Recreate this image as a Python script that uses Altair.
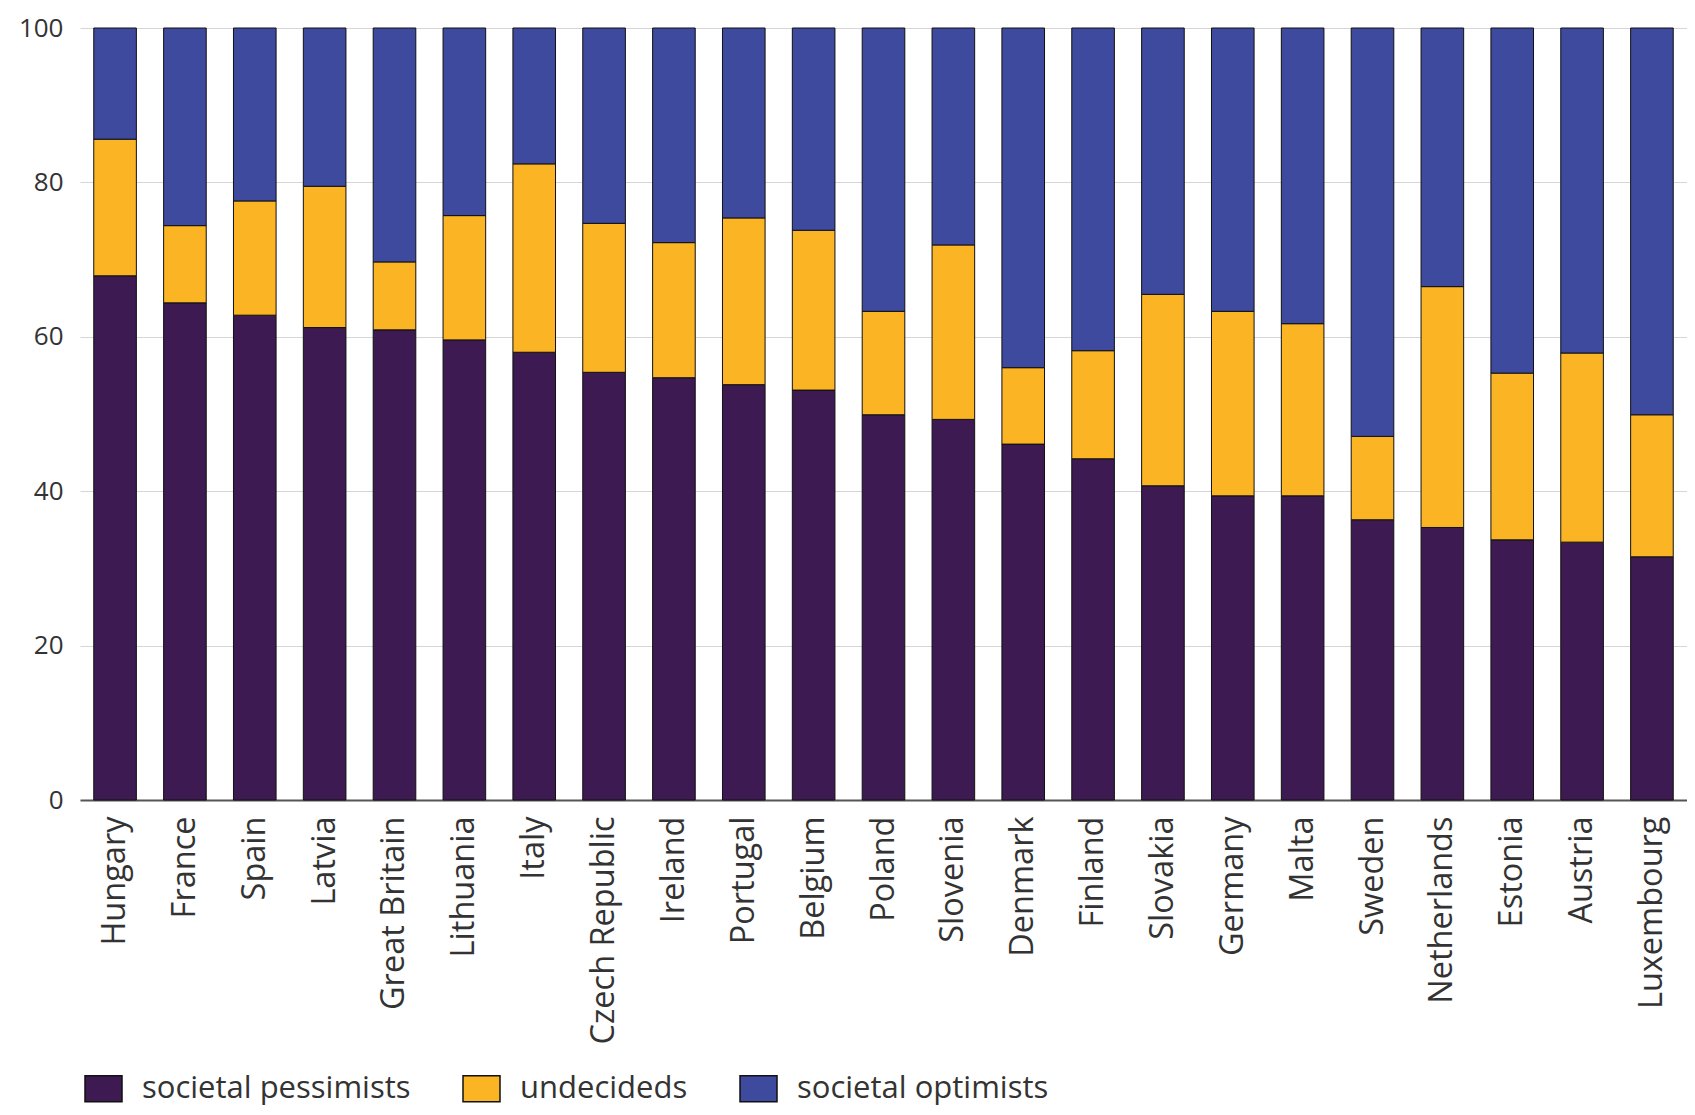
import altair as alt
import pandas as pd

countries = ["Hungary", "France", "Spain", "Latvia", "Great Britain", "Lithuania", "Italy",
             "Czech Republic", "Ireland", "Portugal", "Belgium", "Poland", "Slovenia", "Denmark",
             "Finland", "Slovakia", "Germany", "Malta", "Sweden", "Netherlands", "Estonia",
             "Austria", "Luxembourg"]
pessimists = [67.9, 64.4, 62.8, 61.2, 60.9, 59.6, 58.0, 55.4, 54.7, 53.8, 53.1, 49.9, 49.3,
              46.1, 44.2, 40.7, 39.4, 39.4, 36.3, 35.3, 33.7, 33.4, 31.5]
undecideds = [17.7, 10.0, 14.8, 18.3, 8.8, 16.1, 24.4, 19.3, 17.5, 21.6, 20.7, 13.4, 22.6,
              9.9, 14.0, 24.8, 23.9, 22.3, 10.8, 31.2, 21.6, 24.5, 18.4]
optimists = [14.4, 25.6, 22.4, 20.5, 30.3, 24.3, 17.6, 25.3, 27.8, 24.6, 26.2, 36.7, 28.1,
             44.0, 41.8, 34.5, 36.7, 38.3, 52.9, 33.5, 44.7, 42.1, 50.1]
series_names = ["societal pessimists", "undecideds", "societal optimists"]
series_colors = ["#3e1a52", "#fbb424", "#3e4a9e"]
y_ticks = [0, 20, 40, 60, 80, 100]

rows = []
for i, c in enumerate(countries):
    for k, vals in enumerate([pessimists, undecideds, optimists]):
        rows.append({"country": c, "series": series_names[k], "order": k, "value": vals[i]})
df = pd.DataFrame(rows)

FONT = "Open Sans"

chart = alt.Chart(df).mark_bar(stroke="#111111", strokeWidth=1).encode(
    x=alt.X("country:N", sort=countries,
            scale=alt.Scale(paddingInner=0.39, paddingOuter=0.197),
            axis=alt.Axis(title=None, labelAngle=270, labelFontSize=32.5, labelFont=FONT,
                          labelColor="#333333", labelPadding=16, ticks=False,
                          domainColor="#555555", domainWidth=2, labelLimit=400)),
    y=alt.Y("value:Q", stack="zero",
            scale=alt.Scale(domain=[0, 100], nice=False),
            axis=alt.Axis(title=None, values=y_ticks, labelFontSize=26, labelFont=FONT,
                          labelColor="#333333", labelPadding=17, ticks=False, domain=False,
                          gridColor="#d6d6d6", gridWidth=1.2)),
    color=alt.Color("series:N", sort=series_names,
                    scale=alt.Scale(domain=series_names, range=series_colors),
                    legend=alt.Legend(title=None, orient="none", legendX=4, legendY=1041,
                                      direction="horizontal",
                                      symbolType="M-1,-0.7L1,-0.7L1,0.7L-1,0.7Z",
                                      symbolSize=1369, symbolStrokeColor="#111111",
                                      symbolStrokeWidth=1.5, symbolOpacity=1,
                                      labelFontSize=31, labelFont=FONT, labelColor="#333333",
                                      labelOffset=19, columnPadding=49, labelLimit=500)),
    order=alt.Order("order:Q", sort="ascending"),
).properties(
    width=1607, height=772,
    autosize=alt.AutoSizeParams(type="none"),
    padding={"left": 72, "top": 20, "right": 0, "bottom": 307},
).configure_view(stroke=None)

chart.save("out.html", embed_options={"renderer": "svg", "actions": False})
